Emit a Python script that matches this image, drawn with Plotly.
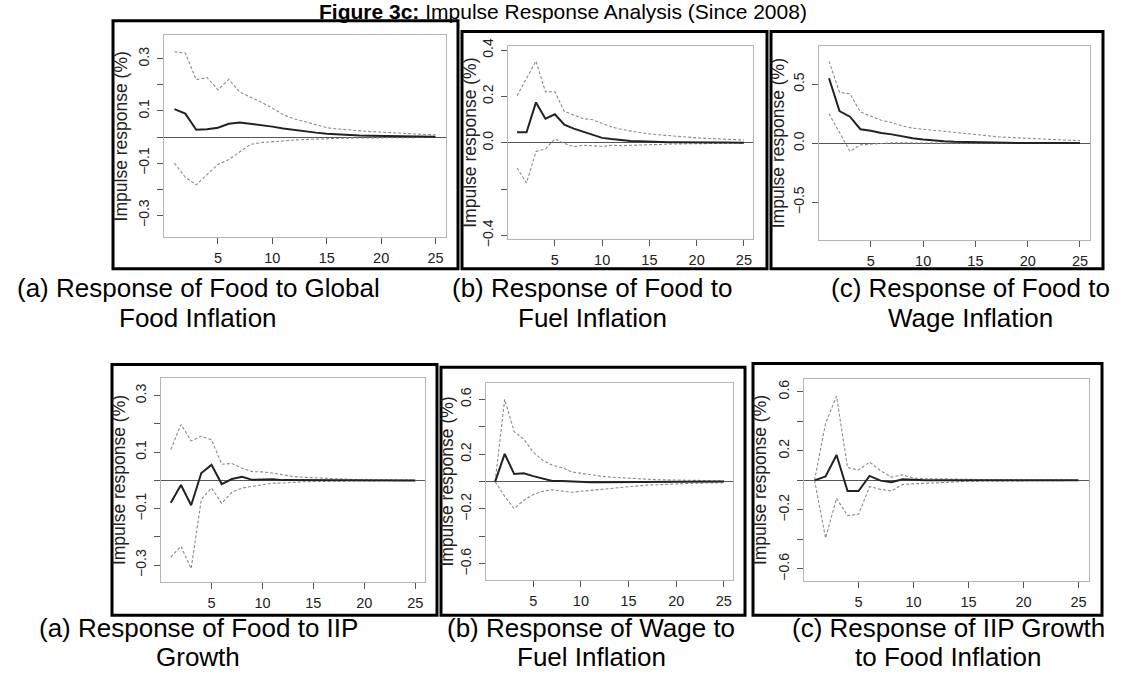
import plotly.graph_objects as go

# ---------------- data ----------------
horizon = [1, 2, 3, 4, 5, 6, 7, 8, 9, 10, 11, 12, 13, 14, 15, 16, 17, 18, 19, 20, 21, 22, 23, 24, 25]

# (a) top: Response of Food to Global Food Inflation
food_global_irf = [0.107, 0.090, 0.028, 0.030, 0.036, 0.051, 0.056, 0.051, 0.044, 0.040, 0.033, 0.027, 0.022,
                   0.017, 0.013, 0.010, 0.008, 0.006, 0.005, 0.004, 0.003, 0.002, 0.002, 0.001, 0.001]
food_global_upper = [0.327, 0.322, 0.220, 0.228, 0.181, 0.221, 0.173, 0.154, 0.133, 0.111, 0.086, 0.070, 0.058,
                     0.046, 0.036, 0.031, 0.027, 0.025, 0.021, 0.019, 0.016, 0.014, 0.012, 0.010, 0.009]
food_global_lower = [-0.100, -0.154, -0.183, -0.142, -0.105, -0.086, -0.056, -0.028, -0.021, -0.019, -0.015, -0.011,
                     -0.009, -0.007, -0.006, -0.005, -0.004, -0.004, -0.003, -0.003, -0.002, -0.002, -0.002, -0.001, -0.001]

# (b) top: Response of Food to Fuel Inflation
food_fuel_irf = [0.045, 0.045, 0.174, 0.104, 0.123, 0.078, 0.061, 0.047, 0.033, 0.021, 0.016, 0.011, 0.008,
                 0.006, 0.004, 0.003, 0.002, 0.002, 0.001, 0.001, 0.001, 0.001, 0.001, 0.000, 0.000]
food_fuel_upper = [0.203, 0.277, 0.352, 0.220, 0.220, 0.135, 0.118, 0.104, 0.099, 0.082, 0.068, 0.058, 0.050,
                   0.044, 0.038, 0.034, 0.030, 0.027, 0.024, 0.021, 0.019, 0.017, 0.015, 0.013, 0.012]
food_fuel_lower = [-0.109, -0.173, -0.038, -0.027, 0.017, -0.003, -0.017, -0.011, -0.013, -0.016, -0.011, -0.013,
                   -0.011, -0.009, -0.008, -0.007, -0.006, -0.005, -0.004, -0.004, -0.003, -0.003, -0.002, -0.002, -0.002]

# (c) top: Response of Food to Wage Inflation
food_wage_irf = [0.550, 0.272, 0.225, 0.119, 0.106, 0.086, 0.075, 0.056, 0.042, 0.031, 0.022, 0.017, 0.013,
                 0.010, 0.008, 0.006, 0.005, 0.004, 0.003, 0.003, 0.002, 0.002, 0.002, 0.001, 0.001]
food_wage_upper = [0.694, 0.430, 0.419, 0.264, 0.230, 0.194, 0.175, 0.147, 0.128, 0.119, 0.106, 0.097, 0.086,
                   0.078, 0.069, 0.062, 0.056, 0.050, 0.045, 0.040, 0.036, 0.032, 0.028, 0.025, 0.022]
food_wage_lower = [0.250, 0.090, -0.069, -0.014, -0.006, -0.002, 0.003, 0.004, 0.004, 0.003, 0.003, 0.002, 0.002,
                   0.002, 0.001, 0.001, 0.001, 0.001, 0.001, 0.001, 0.001, 0.000, 0.000, 0.000, 0.000]

# (a) bottom: Response of Food to IIP Growth
food_iip_irf = [-0.079, -0.016, -0.088, 0.026, 0.055, -0.013, 0.005, 0.013, 0.002, 0.002, 0.004, 0.001, 0.001,
                0.000, 0.000, 0.000, 0.000, 0.000, 0.000, 0.000, 0.000, 0.000, 0.000, 0.000, 0.000]
food_iip_upper = [0.109, 0.198, 0.140, 0.156, 0.144, 0.057, 0.060, 0.043, 0.031, 0.030, 0.026, 0.020, 0.014,
                  0.011, 0.009, 0.007, 0.005, 0.004, 0.003, 0.003, 0.002, 0.002, 0.002, 0.001, 0.001]
food_iip_lower = [-0.271, -0.233, -0.312, -0.067, -0.027, -0.081, -0.042, -0.027, -0.021, -0.016, -0.010, -0.009,
                  -0.006, -0.005, -0.004, -0.003, -0.003, -0.002, -0.002, -0.002, -0.001, -0.001, -0.001, -0.001, -0.001]

# (b) bottom: Response of Wage to Fuel Inflation
wage_fuel_irf = [0.000, 0.202, 0.055, 0.060, 0.040, 0.024, 0.005, 0.004, 0.000, -0.002, -0.005, -0.004, -0.004,
                 -0.003, -0.003, -0.002, -0.002, -0.002, -0.001, -0.001, -0.001, -0.001, -0.001, 0.000, 0.000]
wage_fuel_upper = [0.000, 0.600, 0.364, 0.310, 0.214, 0.155, 0.119, 0.102, 0.071, 0.060, 0.048, 0.040, 0.033,
                   0.028, 0.024, 0.020, 0.017, 0.014, 0.012, 0.010, 0.009, 0.008, 0.007, 0.006, 0.005]
wage_fuel_lower = [0.000, -0.107, -0.197, -0.136, -0.095, -0.071, -0.060, -0.071, -0.078, -0.071, -0.064, -0.055,
                   -0.048, -0.042, -0.036, -0.031, -0.026, -0.022, -0.019, -0.016, -0.014, -0.012, -0.010, -0.009, -0.008]

# (c) bottom: Response of IIP Growth to Food Inflation
iip_food_irf = [0.000, 0.026, 0.172, -0.072, -0.072, 0.030, -0.002, -0.013, 0.007, 0.002, 0.000, 0.000, 0.000,
                0.000, 0.000, 0.000, 0.000, 0.000, 0.000, 0.000, 0.000, 0.000, 0.000, 0.000, 0.000]
iip_food_upper = [0.000, 0.385, 0.570, 0.087, 0.070, 0.124, 0.065, 0.022, 0.037, 0.015, 0.011, 0.013, 0.010,
                  0.008, 0.006, 0.005, 0.004, 0.003, 0.003, 0.002, 0.002, 0.002, 0.001, 0.001, 0.001]
iip_food_lower = [0.000, -0.391, -0.122, -0.239, -0.230, -0.043, -0.061, -0.072, -0.028, -0.024, -0.020, -0.015,
                  -0.010, -0.008, -0.006, -0.005, -0.004, -0.003, -0.003, -0.002, -0.002, -0.001, -0.001, -0.001, -0.001]

# tick labels
x_tick_vals = [5, 10, 15, 20, 25]
x_tick_text = ["5", "10", "15", "20", "25"]
y_ticks_03 = [-0.3, -0.2, -0.1, 0.0, 0.1, 0.2, 0.3]
y_text_03 = ["\u22120.3", "", "\u22120.1", "", "0.1", "", "0.3"]
y_ticks_04 = [-0.4, -0.2, 0.0, 0.2, 0.4]
y_text_04 = ["\u22120.4", "", "0.0", "0.2", "0.4"]
y_ticks_05 = [-0.5, 0.0, 0.5]
y_text_05 = ["\u22120.5", "0.0", "0.5"]
y_ticks_06 = [-0.6, -0.4, -0.2, 0.0, 0.2, 0.4, 0.6]
y_text_06 = ["\u22120.6", "", "\u22120.2", "", "0.2", "", "0.6"]

captions = [
    ["(a) Response of Food to Global", "Food Inflation"],
    ["(b) Response of Food to", "Fuel Inflation"],
    ["(c) Response of Food to", "Wage Inflation"],
    ["(a) Response of Food to IIP", "Growth"],
    ["(b) Response of Wage to", "Fuel Inflation"],
    ["(c) Response of IIP Growth", "to Food Inflation"],
]
y_axis_title = "Impulse response (%)"
fig_title = "<b>Figure 3c:</b> Impulse Response Analysis (Since 2008)"

# ---------------- layout geometry (pixels) ----------------
W, H = 1131, 680
FONT = "Liberation Sans, Arial, Helvetica, sans-serif"


def fx(v):
    return v / W


def fy(v):
    return 1 - v / H


panels = [
    dict(irf=food_global_irf, up=food_global_upper, lo=food_global_lower, yr=[-0.385, 0.39],
         tv=y_ticks_03, tt=y_text_03, box=(113, 13, 458, 267), plot=(164, 28, 446, 235),
         ytitle_x=121, cap_x=198, cap_y=(287, 317)),
    dict(irf=food_fuel_irf, up=food_fuel_upper, lo=food_fuel_lower, yr=[-0.417, 0.417],
         tv=y_ticks_04, tt=y_text_04, box=(462, 24, 767, 267), plot=(508, 39, 753, 237),
         ytitle_x=470, cap_x=592, cap_y=(287, 317)),
    dict(irf=food_wage_irf, up=food_wage_upper, lo=food_wage_lower, yr=[-0.823, 0.823],
         tv=y_ticks_05, tt=y_text_05, box=(771, 24, 1103, 267), plot=(819, 39, 1090, 238),
         ytitle_x=778, cap_x=970, cap_y=(287, 317)),
    dict(irf=food_iip_irf, up=food_iip_upper, lo=food_iip_lower, yr=[-0.36, 0.362],
         tv=y_ticks_03, tt=y_text_03, box=(112, 365, 437, 622), plot=(161, 379, 425, 588),
         ytitle_x=119, cap_x=198, cap_y=(635, 665)),
    dict(irf=wage_fuel_irf, up=wage_fuel_upper, lo=wage_fuel_lower, yr=[-0.72, 0.72],
         tv=y_ticks_06, tt=y_text_06, box=(441, 368, 745, 622), plot=(486, 384, 733, 586),
         ytitle_x=447, cap_x=591, cap_y=(635, 665)),
    dict(irf=iip_food_irf, up=iip_food_upper, lo=iip_food_lower, yr=[-0.683, 0.686],
         tv=y_ticks_06, tt=y_text_06, box=(753, 364, 1102, 622), plot=(804, 380, 1089, 587),
         ytitle_x=760, cap_x=948, cap_y=(635, 665)),
]

fig = go.Figure()
shapes = []
annotations = []
layout_axes = {}

for i, p in enumerate(panels, start=1):
    xname = "x" if i == 1 else f"x{i}"
    yname = "y" if i == 1 else f"y{i}"
    l, t, r, b = p["plot"]
    layout_axes["xaxis" if i == 1 else f"xaxis{i}"] = dict(
        domain=[fx(l), fx(r)], anchor=yname, range=[0.04, 25.96],
        tickvals=x_tick_vals, ticktext=x_tick_text, ticks="outside", ticklen=6, tickwidth=1,
        tickcolor="#555555", showline=True, mirror=True, linecolor="#b5b5b5", linewidth=1,
        showgrid=False, zeroline=False, ticklabelstandoff=1,
        tickfont=dict(family=FONT, size=14.5, color="#222222"), fixedrange=True,
    )
    layout_axes["yaxis" if i == 1 else f"yaxis{i}"] = dict(
        domain=[fy(b), fy(t)], anchor=xname, range=p["yr"],
        tickvals=p["tv"], ticktext=p["tt"], tickangle=-90, ticks="outside", ticklen=6, tickwidth=1,
        tickcolor="#555555", showline=True, mirror=True, linecolor="#b5b5b5", linewidth=1,
        showgrid=False, zeroline=True, zerolinecolor="#555555", zerolinewidth=1,
        ticklabelstandoff=2, tickfont=dict(family=FONT, size=14, color="#222222"), fixedrange=True,
    )
    for ys, col, wd, dash in [(p["up"], "#8a8a8a", 1.1, "3px,2px"),
                              (p["lo"], "#8a8a8a", 1.1, "3px,2px"),
                              (p["irf"], "#222222", 2.0, "solid")]:
        fig.add_trace(go.Scatter(x=horizon, y=ys, xaxis=xname, yaxis=yname, mode="lines",
                                 line=dict(color=col, width=wd, dash=dash), showlegend=False,
                                 hoverinfo="skip"))
    bl, bt, br, bb = p["box"]
    shapes.append(dict(type="rect", xref="paper", yref="paper", x0=fx(bl), x1=fx(br), y0=fy(bb), y1=fy(bt),
                       line=dict(color="black", width=3), fillcolor="rgba(0,0,0,0)", layer="above"))
    annotations.append(dict(text=y_axis_title, xref="paper", yref="paper", x=fx(p["ytitle_x"]),
                            y=fy((t + b) / 2), textangle=-90, showarrow=False, xanchor="center",
                            yanchor="middle", font=dict(family=FONT, size=17.5, color="#222222")))
    for line_text, cy in zip(captions[i - 1], p["cap_y"]):
        annotations.append(dict(text=line_text, xref="paper", yref="paper", x=fx(p["cap_x"]), y=fy(cy),
                                showarrow=False, xanchor="center", yanchor="middle",
                                font=dict(family=FONT, size=26, color="black")))

annotations.append(dict(text=fig_title, xref="paper", yref="paper", x=fx(563), y=fy(17),
                        showarrow=False, xanchor="center", yanchor="bottom",
                        font=dict(family=FONT, size=21, color="black")))

fig.update_layout(
    width=W, height=H, autosize=False,
    margin=dict(l=0, r=0, t=0, b=0),
    paper_bgcolor="white", plot_bgcolor="white",
    shapes=shapes, annotations=annotations, showlegend=False,
    **layout_axes,
)

fig.write_html("out.html", config={"displayModeBar": False},
               post_script="document.body.style.margin='0';document.body.style.overflow='hidden';")
